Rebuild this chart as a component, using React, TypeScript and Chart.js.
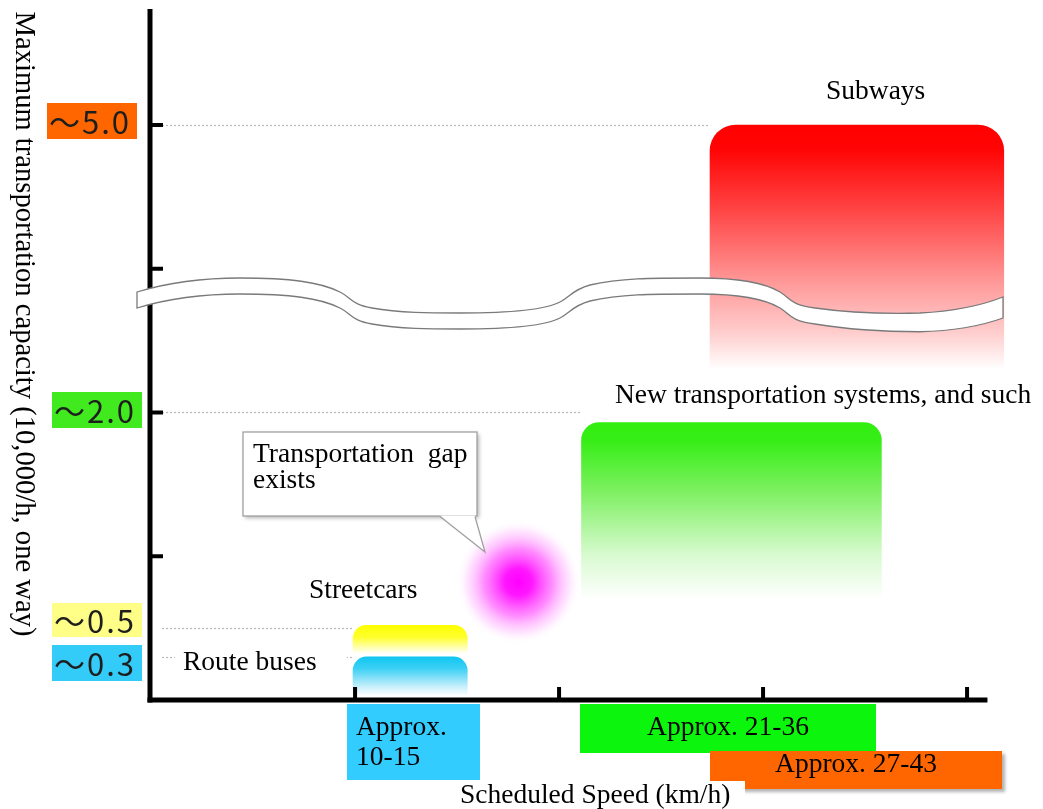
import React, { useEffect, useRef } from "react";
import { Chart, registerables } from "chart.js";

Chart.register(...registerables);

// ---- data ----
const modes = ["Route buses", "Streetcars", "New transportation systems, and such", "Subways"];
const speedFrom = [9.9, 9.9, 21.1, 27.4];
const speedTo = [15.5, 15.5, 35.8, 41.8];
const capLow = [0.03, 0.33, 0.7, 2.3];
const capHigh = [0.3, 0.52, 1.93, 4.0];
const xTicks = [10, 20, 30, 40];
const yTicks = [1, 2, 3, 4];
const capLabels = ["～0.3", "～0.5", "～2.0", "～5.0"];
const capLabelPos = [0.3, 0.5, 2, 4];
const speedRangeLabels = ["Approx. 10-15", "Approx. 21-36", "Approx. 27-43"];
const gapX = [18];
const gapY = [0.82];

// ---- layout ----
const W = 1043;
const H = 809;
const PAD_L = 148;
const PAD_T = 10;
const PAD_B = 109;
const X_MIN = -0.15;
const X_MAX = 43.5;
const PX_PER_X = 20.4;
const PAD_R = W - PAD_L - (X_MAX - X_MIN) * PX_PER_X;
const Y_MIN = 0;
const Y_MAX = 4.8;
const X_AXIS_END = 41;

const SERIF = '27.5px "Liberation Serif", "Times New Roman", serif';

const fills: [number, string][][] = [
  [[0, "#10c6f2"], [0.3, "#3cd0f4"], [0.75, "#c2eefb"], [1, "#ffffff"]],
  [[0, "#ffff00"], [0.45, "#ffff30"], [1, "#fffff0"]],
  [[0, "#33ee11"], [0.1, "#36ee16"], [0.4, "#80f064"], [0.75, "#d8fad0"], [1, "#ffffff"]],
  [[0, "#ff0000"], [0.1, "#ff0404"], [0.35, "#ff4545"], [0.63, "#ff9595"], [0.85, "#ffcdcd"], [1, "#ffffff"]],
];
const radii = [14, 14, 18, 26];

function barGradient(chart: any, i: number) {
  const { ctx, chartArea } = chart;
  if (!chartArea) return fills[i][0][1];
  const ys = chart.scales.y;
  const top = ys.getPixelForValue(capHigh[i]);
  const bottom = ys.getPixelForValue(capLow[i]);
  const g = ctx.createLinearGradient(0, top, 0, bottom);
  fills[i].forEach(([o, c]) => g.addColorStop(o, c));
  return g;
}

function gapGradient(chart: any, k: number) {
  const { ctx, chartArea } = chart;
  if (!chartArea) return "#ff00ff";
  const cx = chart.scales.x.getPixelForValue(gapX[k]);
  const cy = chart.scales.y.getPixelForValue(gapY[k]);
  const g = ctx.createRadialGradient(cx, cy, 0, cx, cy, 62);
  g.addColorStop(0, "#ff00ff");
  g.addColorStop(0.22, "rgba(255,10,255,0.95)");
  g.addColorStop(0.55, "rgba(255,80,255,0.65)");
  g.addColorStop(0.82, "rgba(255,170,255,0.32)");
  g.addColorStop(1, "rgba(255,255,255,0)");
  return g;
}

// break symbol (top edge), decoration in pixels
const bandStart = [137, 292];
const bandSegs = [
  [170, 282, 200, 278, 240, 278],
  [290, 278, 320, 282, 340, 292],
  [352, 298, 352, 305, 372, 308],
  [400, 313, 430, 313, 460, 313],
  [510, 313, 545, 310, 560, 302],
  [570, 297, 572, 290, 590, 285],
  [620, 278, 650, 278, 700, 278],
  [740, 278, 765, 283, 780, 292],
  [790, 298, 790, 305, 815, 308],
  [850, 313, 880, 314, 920, 313],
  [960, 311, 985, 304, 1003, 297],
];
const th = (x: number) => 16 + Math.max(0, (x - 820) / 183) * 5;

function drawBand(ctx: CanvasRenderingContext2D) {
  ctx.save();
  ctx.beginPath();
  ctx.moveTo(bandStart[0], bandStart[1]);
  bandSegs.forEach((s) => ctx.bezierCurveTo(s[0], s[1], s[2], s[3], s[4], s[5]));
  const last = bandSegs[bandSegs.length - 1];
  ctx.lineTo(last[4], last[5] + th(last[4]));
  for (let k = bandSegs.length - 1; k >= 0; k--) {
    const s = bandSegs[k];
    const p = k === 0 ? bandStart : [bandSegs[k - 1][4], bandSegs[k - 1][5]];
    ctx.bezierCurveTo(s[2], s[3] + th(s[2]), s[0], s[1] + th(s[0]), p[0], p[1] + th(p[0]));
  }
  ctx.closePath();
  ctx.fillStyle = "#ffffff";
  ctx.fill();
  ctx.strokeStyle = "#7a7a7a";
  ctx.lineWidth = 1.3;
  ctx.stroke();
  ctx.restore();
}

const capBoxes = [
  { x: 52, y: 645, w: 90, h: 36, color: "#33ccf8" },
  { x: 52, y: 603, w: 90, h: 34, color: "#ffff88" },
  { x: 52, y: 392, w: 90, h: 36, color: "#40ea1e" },
  { x: 47, y: 103, w: 90, h: 36, color: "#ff6600" },
];

const decor = {
  id: "decor",
  beforeDatasetsDraw(chart: any) {
    const { ctx } = chart;
    const xs = chart.scales.x;
    const ys = chart.scales.y;
    ctx.save();
    ctx.strokeStyle = "#b8b8b8";
    ctx.lineWidth = 1.2;
    ctx.setLineDash([2, 2]);
    capLabelPos.forEach((v, i) => {
      const y = Math.round(ys.getPixelForValue(v)) + 0.5;
      ctx.beginPath();
      ctx.moveTo(xs.getPixelForValue(X_MIN) + 14, y);
      ctx.lineTo(xs.getPixelForValue(speedFrom[i]), y);
      ctx.stroke();
    });
    ctx.restore();
  },
  afterDatasetsDraw(chart: any) {
    const { ctx } = chart;
    const xs = chart.scales.x;
    const ys = chart.scales.y;
    const x0 = xs.getPixelForValue(X_MIN) + 2;
    const y0 = ys.getPixelForValue(0);
    ctx.save();
    // axes
    ctx.strokeStyle = "#000";
    ctx.lineWidth = 5;
    ctx.beginPath();
    ctx.moveTo(x0, ys.getPixelForValue(Y_MAX) - 1);
    ctx.lineTo(x0, y0 + 2.5);
    ctx.stroke();
    ctx.beginPath();
    ctx.moveTo(x0 - 2.5, y0);
    ctx.lineTo(xs.getPixelForValue(X_AXIS_END), y0);
    ctx.stroke();
    ctx.lineWidth = 4;
    yTicks.forEach((v) => {
      const y = ys.getPixelForValue(v);
      ctx.beginPath();
      ctx.moveTo(x0, y);
      ctx.lineTo(x0 + 13, y);
      ctx.stroke();
    });
    xTicks.forEach((v) => {
      const x = xs.getPixelForValue(v);
      ctx.beginPath();
      ctx.moveTo(x, y0);
      ctx.lineTo(x, y0 - 13);
      ctx.stroke();
    });

    // break symbol
    drawBand(ctx);

    // capacity labels
    capLabels.forEach((t, i) => {
      const b = capBoxes[i];
      ctx.fillStyle = b.color;
      ctx.fillRect(b.x, b.y, b.w, b.h);
      ctx.fillStyle = "#1e1e1e";
      ctx.font = '31px "Noto Sans CJK JP", "DejaVu Sans", sans-serif';
      ctx.textBaseline = "middle";
      ctx.textAlign = "left";
      (ctx as any).letterSpacing = "2px";
      ctx.fillText(t, b.x + 2, b.y + b.h / 2 + 1);
      (ctx as any).letterSpacing = "0px";
    });

    ctx.font = SERIF;
    ctx.textBaseline = "alphabetic";
    ctx.textAlign = "left";

    // Route buses label (with white backing)
    ctx.fillStyle = "#ffffff";
    ctx.fillRect(175, 638, 172, 50);
    ctx.fillStyle = "#000";
    ctx.fillText(modes[0], 183, 670);
    ctx.fillText(modes[1], 309, 598);
    ctx.fillText(modes[2], 615, 403);
    ctx.fillText(modes[3], 826, 99);

    // callout
    ctx.save();
    ctx.shadowColor = "rgba(0,0,0,0.3)";
    ctx.shadowOffsetX = 2;
    ctx.shadowOffsetY = 2;
    ctx.shadowBlur = 4;
    ctx.fillStyle = "#fff";
    ctx.fillRect(243, 432, 234, 84);
    ctx.restore();
    ctx.strokeStyle = "#a0a0a0";
    ctx.lineWidth = 1.3;
    ctx.strokeRect(243, 432, 234, 84);
    ctx.beginPath();
    ctx.moveTo(440, 515.5);
    ctx.lineTo(485, 552);
    ctx.lineTo(475, 515.5);
    ctx.closePath();
    ctx.fillStyle = "#fff";
    ctx.fill();
    ctx.beginPath();
    ctx.moveTo(440, 516.5);
    ctx.lineTo(485, 552);
    ctx.lineTo(475, 516.5);
    ctx.stroke();
    ctx.fillStyle = "#000";
    ctx.fillText("Transportation  gap", 253, 462);
    ctx.fillText("exists", 253, 488);

    // speed range boxes
    ctx.fillStyle = "#33ccff";
    ctx.fillRect(347, 704, 133, 76);
    ctx.fillStyle = "#0cf50c";
    ctx.fillRect(580, 704, 296, 49);
    ctx.save();
    ctx.shadowColor = "rgba(0,0,0,0.3)";
    ctx.shadowOffsetX = 3;
    ctx.shadowOffsetY = 3;
    ctx.shadowBlur = 3;
    ctx.fillStyle = "#ff6600";
    ctx.fillRect(710, 751, 292, 38);
    ctx.restore();
    ctx.fillStyle = "#000";
    const parts = speedRangeLabels[0].split(" ");
    ctx.fillText(parts[0], 356, 735);
    ctx.fillText(parts[1], 356, 765);
    ctx.textAlign = "center";
    ctx.fillText(speedRangeLabels[1], 728, 735);
    ctx.fillText(speedRangeLabels[2], 856, 772);

    // x axis title
    ctx.fillStyle = "#fff";
    ctx.fillRect(448, 781, 297, 28);
    ctx.fillStyle = "#000";
    ctx.textAlign = "left";
    ctx.fillText("Scheduled Speed (km/h)", 460, 803);

    // y axis title
    ctx.save();
    ctx.font = '28.6px "Liberation Serif", "Times New Roman", serif';
    ctx.translate(16, 324);
    ctx.rotate(Math.PI / 2);
    ctx.textAlign = "center";
    ctx.fillText("Maximum transportation capacity (10,000/h, one way)", 0, 0);
    ctx.restore();

    ctx.restore();
  },
};

export default function App() {
  const ref = useRef<HTMLCanvasElement>(null);
  useEffect(() => {
    const datasets: any[] = modes.map((m, i) => ({
      type: "bar",
      label: m,
      data: [{ x: (speedFrom[i] + speedTo[i]) / 2, y: [capLow[i], capHigh[i]] }],
      barThickness: (speedTo[i] - speedFrom[i]) * PX_PER_X,
      backgroundColor: (c: any) => barGradient(c.chart, i),
      borderWidth: 0,
      borderRadius: { topLeft: radii[i], topRight: radii[i], bottomLeft: 0, bottomRight: 0 },
      borderSkipped: "start",
      stack: "all",
      grouped: true,
      order: i,
    }));
    datasets.push({
      type: "scatter",
      label: "Transportation gap exists",
      data: gapX.map((x, k) => ({ x, y: gapY[k] })),
      pointRadius: 62,
      pointHoverRadius: 62,
      pointBorderWidth: 0,
      borderWidth: 0,
      backgroundColor: (c: any) => gapGradient(c.chart, c.dataIndex ?? 0),
      order: 10,
    });
    const chart = new Chart(ref.current as HTMLCanvasElement, {
      type: "bar",
      data: { datasets },
      options: {
        responsive: false,
        animation: false,
        devicePixelRatio: 1,
        events: [],
        layout: { autoPadding: false, padding: { left: PAD_L, right: PAD_R, top: PAD_T, bottom: PAD_B } },
        plugins: { legend: { display: false }, tooltip: { enabled: false }, title: { display: false } },
        scales: {
          x: { type: "linear", display: false, min: X_MIN, max: X_MAX, offset: false },
          y: { type: "linear", display: false, min: Y_MIN, max: Y_MAX, stacked: false },
        },
      } as any,
      plugins: [decor],
    });
    return () => chart.destroy();
  }, []);
  return (
    <div style={{ position: "fixed", left: 0, top: 0, width: W, height: H, background: "#fff" }}>
      <canvas ref={ref} width={W} height={H} style={{ display: "block", width: W, height: H }} />
    </div>
  );
}
